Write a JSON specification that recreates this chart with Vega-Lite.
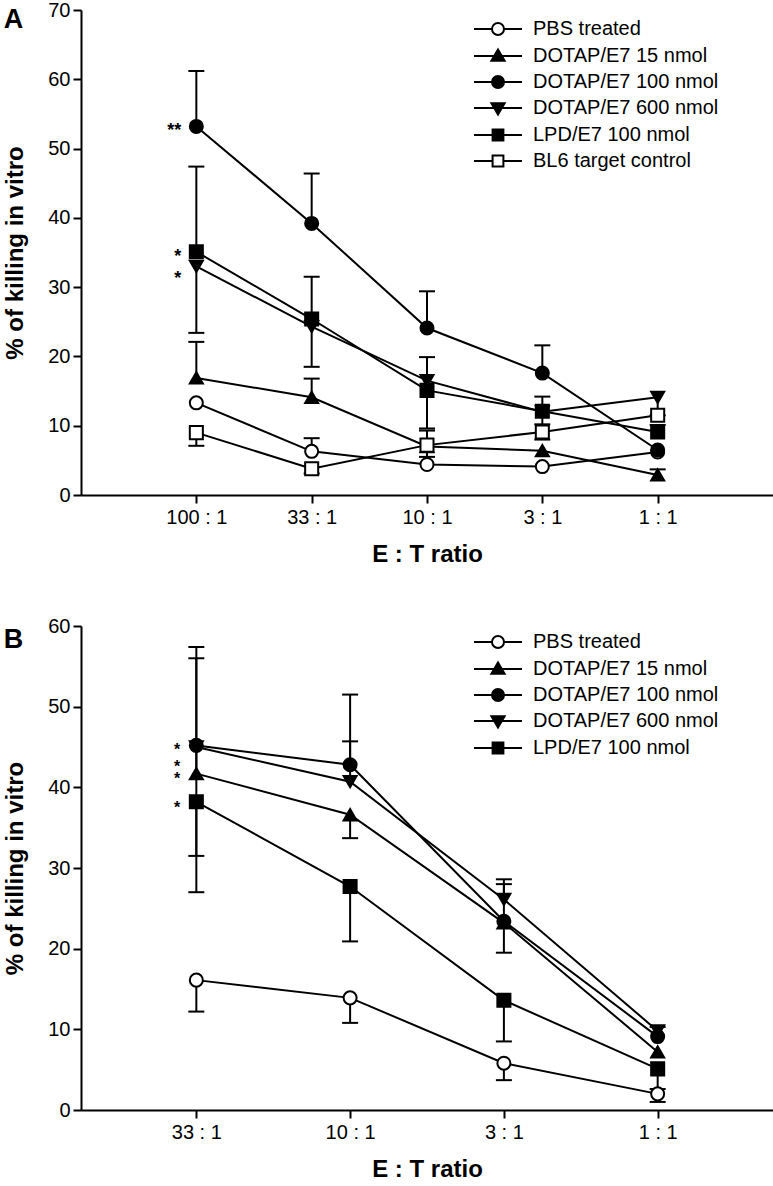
{
  "$schema": "https://vega.github.io/schema/vega-lite/v6.json",
  "padding": {"left": 3, "top": 0, "right": 0, "bottom": 0},
  "background": "white",
  "config": {
    "view": {"stroke": null},
    "font": "Liberation Sans",
    "axis": {"grid": false, "domainColor": "black", "domainWidth": 2, "tickColor": "black", "tickWidth": 2, "tickSize": 8, "labelColor": "black", "labelFont": "Liberation Sans", "labelFontSize": 20, "titleFont": "Liberation Sans", "titleFontSize": 24, "titleFontWeight": "bold", "titleColor": "black"},
    "axisX": {"labelAngle": 0, "labelPadding": 4, "titlePadding": 15},
    "axisY": {"labelPadding": 3, "titlePadding": 20},
    "legend": {"labelLimit": 400, "symbolStrokeWidth": 2}
  },
  "datasets": {
    "a": [
      {"ratio": "100 : 1", "series": "PBS treated", "value": 13.3, "err": null},
      {"ratio": "33 : 1", "series": "PBS treated", "value": 6.3, "err": 8.2},
      {"ratio": "10 : 1", "series": "PBS treated", "value": 4.4, "err": null},
      {"ratio": "3 : 1", "series": "PBS treated", "value": 4.1, "err": null},
      {"ratio": "1 : 1", "series": "PBS treated", "value": 6.2, "err": null},
      {"ratio": "100 : 1", "series": "DOTAP/E7 15 nmol", "value": 16.9, "err": 22.1},
      {"ratio": "33 : 1", "series": "DOTAP/E7 15 nmol", "value": 14.1, "err": 16.8},
      {"ratio": "10 : 1", "series": "DOTAP/E7 15 nmol", "value": 7.0, "err": 9.3},
      {"ratio": "3 : 1", "series": "DOTAP/E7 15 nmol", "value": 6.4, "err": null},
      {"ratio": "1 : 1", "series": "DOTAP/E7 15 nmol", "value": 2.9, "err": 3.7},
      {"ratio": "100 : 1", "series": "DOTAP/E7 100 nmol", "value": 53.2, "err": 61.2},
      {"ratio": "33 : 1", "series": "DOTAP/E7 100 nmol", "value": 39.2, "err": 46.4},
      {"ratio": "10 : 1", "series": "DOTAP/E7 100 nmol", "value": 24.1, "err": 29.4},
      {"ratio": "3 : 1", "series": "DOTAP/E7 100 nmol", "value": 17.6, "err": 21.6},
      {"ratio": "1 : 1", "series": "DOTAP/E7 100 nmol", "value": 6.5, "err": null},
      {"ratio": "100 : 1", "series": "DOTAP/E7 600 nmol", "value": 33.0, "err": 23.4},
      {"ratio": "33 : 1", "series": "DOTAP/E7 600 nmol", "value": 24.3, "err": 18.5},
      {"ratio": "10 : 1", "series": "DOTAP/E7 600 nmol", "value": 16.5, "err": 9.6},
      {"ratio": "3 : 1", "series": "DOTAP/E7 600 nmol", "value": 12.0, "err": 10.2},
      {"ratio": "1 : 1", "series": "DOTAP/E7 600 nmol", "value": 14.1, "err": 11.5},
      {"ratio": "100 : 1", "series": "LPD/E7 100 nmol", "value": 35.1, "err": 47.4},
      {"ratio": "33 : 1", "series": "LPD/E7 100 nmol", "value": 25.4, "err": 31.5},
      {"ratio": "10 : 1", "series": "LPD/E7 100 nmol", "value": 15.1, "err": 19.9},
      {"ratio": "3 : 1", "series": "LPD/E7 100 nmol", "value": 12.1, "err": 14.2},
      {"ratio": "1 : 1", "series": "LPD/E7 100 nmol", "value": 9.1, "err": 10.1},
      {"ratio": "100 : 1", "series": "BL6 target control", "value": 9.0, "err": 7.1},
      {"ratio": "33 : 1", "series": "BL6 target control", "value": 3.8, "err": 3.1},
      {"ratio": "10 : 1", "series": "BL6 target control", "value": 7.2, "err": 5.5},
      {"ratio": "3 : 1", "series": "BL6 target control", "value": 9.1, "err": 8.0},
      {"ratio": "1 : 1", "series": "BL6 target control", "value": 11.5, "err": null}
    ],
    "b": [
      {"ratio": "33 : 1", "series": "PBS treated", "value": 16.1, "err": 12.2},
      {"ratio": "10 : 1", "series": "PBS treated", "value": 13.9, "err": 10.8},
      {"ratio": "3 : 1", "series": "PBS treated", "value": 5.8, "err": 3.7},
      {"ratio": "1 : 1", "series": "PBS treated", "value": 2.0, "err": 1.0},
      {"ratio": "33 : 1", "series": "DOTAP/E7 15 nmol", "value": 41.7, "err": 56.0},
      {"ratio": "10 : 1", "series": "DOTAP/E7 15 nmol", "value": 36.6, "err": 33.7},
      {"ratio": "3 : 1", "series": "DOTAP/E7 15 nmol", "value": 23.2, "err": 28.0},
      {"ratio": "1 : 1", "series": "DOTAP/E7 15 nmol", "value": 7.2, "err": null},
      {"ratio": "33 : 1", "series": "DOTAP/E7 100 nmol", "value": 45.2, "err": 57.4},
      {"ratio": "10 : 1", "series": "DOTAP/E7 100 nmol", "value": 42.8, "err": 51.5},
      {"ratio": "3 : 1", "series": "DOTAP/E7 100 nmol", "value": 23.4, "err": 19.5},
      {"ratio": "1 : 1", "series": "DOTAP/E7 100 nmol", "value": 9.1, "err": null},
      {"ratio": "33 : 1", "series": "DOTAP/E7 600 nmol", "value": 45.0, "err": 31.5},
      {"ratio": "10 : 1", "series": "DOTAP/E7 600 nmol", "value": 40.7, "err": 45.7},
      {"ratio": "3 : 1", "series": "DOTAP/E7 600 nmol", "value": 26.1, "err": 28.6},
      {"ratio": "1 : 1", "series": "DOTAP/E7 600 nmol", "value": 9.8, "err": 10.3},
      {"ratio": "33 : 1", "series": "LPD/E7 100 nmol", "value": 38.2, "err": 27.0},
      {"ratio": "10 : 1", "series": "LPD/E7 100 nmol", "value": 27.7, "err": 20.9},
      {"ratio": "3 : 1", "series": "LPD/E7 100 nmol", "value": 13.6, "err": 8.5},
      {"ratio": "1 : 1", "series": "LPD/E7 100 nmol", "value": 5.1, "err": 2.6}
    ],
    "sigA": [
      {"ratio": "100 : 1", "y": 53.2, "t": "**"},
      {"ratio": "100 : 1", "y": 35.1, "t": "*"},
      {"ratio": "100 : 1", "y": 31.9, "t": "*"}
    ],
    "sigB": [
      {"ratio": "33 : 1", "y": 45.2, "t": "*"},
      {"ratio": "33 : 1", "y": 43.2, "t": "*"},
      {"ratio": "33 : 1", "y": 41.6, "t": "*"},
      {"ratio": "33 : 1", "y": 38.0, "t": "*"}
    ]
  },
  "vconcat": [
    {
      "title": {"text": "A", "anchor": "start", "frame": "bounds", "fontSize": 27, "fontWeight": "bold", "font": "Liberation Sans", "color": "black", "offset": -34},
      "width": 692,
      "height": 485,
      "resolve": {"scale": {"shape": "independent", "fill": "independent", "stroke": "independent"}, "legend": {"shape": "independent", "fill": "independent", "stroke": "independent"}},
      "layer": [
        {
          "data": {"name": "a"},
          "transform": [{"filter": "datum.err != null"}],
          "mark": {"type": "rule", "color": "black", "strokeWidth": 2},
          "encoding": {
            "x": {"field": "ratio", "type": "ordinal", "sort": ["100 : 1", "33 : 1", "10 : 1", "3 : 1", "1 : 1"], "scale": {"type": "point", "padding": 1}, "axis": {"title": "E : T ratio"}},
            "y": {"field": "value", "type": "quantitative", "scale": {"domain": [0, 70], "nice": false}, "axis": {"title": "% of killing in vitro", "values": [0, 10, 20, 30, 40, 50, 60, 70]}},
            "y2": {"field": "err"}
          }
        },
        {
          "data": {"name": "a"},
          "transform": [{"filter": "datum.err != null"}],
          "mark": {"type": "tick", "orient": "horizontal", "color": "black", "size": 16, "thickness": 2, "opacity": 1},
          "encoding": {
            "x": {"field": "ratio", "type": "ordinal", "sort": ["100 : 1", "33 : 1", "10 : 1", "3 : 1", "1 : 1"], "scale": {"type": "point", "padding": 1}, "axis": {"title": "E : T ratio"}},
            "y": {"field": "err", "type": "quantitative", "scale": {"domain": [0, 70], "nice": false}, "axis": {"title": "% of killing in vitro", "values": [0, 10, 20, 30, 40, 50, 60, 70]}}
          }
        },
        {
          "data": {"name": "a"},
          "mark": {"type": "line", "color": "black", "strokeWidth": 2},
          "encoding": {
            "x": {"field": "ratio", "type": "ordinal", "sort": ["100 : 1", "33 : 1", "10 : 1", "3 : 1", "1 : 1"], "scale": {"type": "point", "padding": 1}, "axis": {"title": "E : T ratio"}},
            "y": {"field": "value", "type": "quantitative", "scale": {"domain": [0, 70], "nice": false}, "axis": {"title": "% of killing in vitro", "values": [0, 10, 20, 30, 40, 50, 60, 70]}},
            "detail": {"field": "series", "type": "nominal"}
          }
        },
        {
          "data": {"name": "a"},
          "mark": {"type": "point", "filled": true, "stroke": "black", "strokeWidth": 2, "size": 170, "opacity": 1},
          "encoding": {
            "x": {"field": "ratio", "type": "ordinal", "sort": ["100 : 1", "33 : 1", "10 : 1", "3 : 1", "1 : 1"], "scale": {"type": "point", "padding": 1}, "axis": {"title": "E : T ratio"}},
            "y": {"field": "value", "type": "quantitative", "scale": {"domain": [0, 70], "nice": false}, "axis": {"title": "% of killing in vitro", "values": [0, 10, 20, 30, 40, 50, 60, 70]}},
            "shape": {"field": "series", "type": "nominal", "scale": {"domain": ["PBS treated", "DOTAP/E7 15 nmol", "DOTAP/E7 100 nmol", "DOTAP/E7 600 nmol", "LPD/E7 100 nmol", "BL6 target control"], "range": ["circle", "triangle-up", "circle", "triangle-down", "square", "square"]}, "legend": null},
            "fill": {"field": "series", "type": "nominal", "scale": {"domain": ["PBS treated", "DOTAP/E7 15 nmol", "DOTAP/E7 100 nmol", "DOTAP/E7 600 nmol", "LPD/E7 100 nmol", "BL6 target control"], "range": ["white", "black", "black", "black", "black", "white"]}, "legend": null}
          }
        },
        {
          "data": {"name": "a"},
          "transform": [{"filter": "datum.value < 0"}],
          "mark": {"type": "point", "filled": true, "strokeWidth": 2, "size": 144, "opacity": 1},
          "encoding": {
            "x": {"field": "ratio", "type": "ordinal", "sort": ["100 : 1", "33 : 1", "10 : 1", "3 : 1", "1 : 1"], "scale": {"type": "point", "padding": 1}, "axis": {"title": "E : T ratio"}},
            "y": {"field": "value", "type": "quantitative", "scale": {"domain": [0, 70], "nice": false}, "axis": {"title": "% of killing in vitro", "values": [0, 10, 20, 30, 40, 50, 60, 70]}},
            "shape": {"field": "series", "type": "nominal", "scale": {"domain": ["PBS treated", "DOTAP/E7 15 nmol", "DOTAP/E7 100 nmol", "DOTAP/E7 600 nmol", "LPD/E7 100 nmol", "BL6 target control"], "range": ["M-4,0H-1M1,0H4M-1,0A1,1,0,1,1,1,0A1,1,0,1,1,-1,0Z", "M-4,0H4M0,-1.1L1.1,0.8L-1.1,0.8Z", "M-4,0H4M-1,0A1,1,0,1,1,1,0A1,1,0,1,1,-1,0Z", "M-4,0H4M-1.1,-0.8L1.1,-0.8L0,1.1Z", "M-4,0H4M-0.9,-0.9H0.9V0.9H-0.9Z", "M-4,0H-0.9M0.9,0H4M-0.9,-0.9H0.9V0.9H-0.9Z"]},
              "legend": {"orient": "none", "legendX": 407, "legendY": 9, "title": null, "padding": 0, "labelFont": "Liberation Sans", "labelFontSize": 20, "labelColor": "black", "labelLimit": 400, "symbolSize": 144, "labelOffset": 25, "rowPadding": 6, "symbolStrokeWidth": 2}},
            "fill": {"field": "series", "type": "nominal", "scale": {"domain": ["PBS treated", "DOTAP/E7 15 nmol", "DOTAP/E7 100 nmol", "DOTAP/E7 600 nmol", "LPD/E7 100 nmol", "BL6 target control"], "range": ["white", "black", "black", "black", "black", "white"]},
              "legend": {"orient": "none", "legendX": 407, "legendY": 9, "title": null, "padding": 0, "labelFont": "Liberation Sans", "labelFontSize": 20, "labelColor": "black", "labelLimit": 400, "symbolSize": 144, "labelOffset": 25, "rowPadding": 6, "symbolStrokeWidth": 2}},
            "stroke": {"field": "series", "type": "nominal", "scale": {"domain": ["PBS treated", "DOTAP/E7 15 nmol", "DOTAP/E7 100 nmol", "DOTAP/E7 600 nmol", "LPD/E7 100 nmol", "BL6 target control"], "range": ["black", "black", "black", "black", "black", "black"]},
              "legend": {"orient": "none", "legendX": 407, "legendY": 9, "title": null, "padding": 0, "labelFont": "Liberation Sans", "labelFontSize": 20, "labelColor": "black", "labelLimit": 400, "symbolSize": 144, "labelOffset": 25, "rowPadding": 6, "symbolStrokeWidth": 2}}
          }
        },
        {
          "data": {"name": "sigA"},
          "mark": {"type": "text", "align": "right", "baseline": "middle", "dx": -15, "dy": 5, "fontSize": 18, "fontWeight": "bold", "color": "black"},
          "encoding": {
            "x": {"field": "ratio", "type": "ordinal", "sort": ["100 : 1", "33 : 1", "10 : 1", "3 : 1", "1 : 1"], "scale": {"type": "point", "padding": 1}, "axis": {"title": "E : T ratio"}},
            "y": {"field": "y", "type": "quantitative", "scale": {"domain": [0, 70], "nice": false}, "axis": {"title": "% of killing in vitro", "values": [0, 10, 20, 30, 40, 50, 60, 70]}},
            "text": {"field": "t"}
          }
        }
      ]
    },
    {
      "title": {"text": "B", "anchor": "start", "frame": "bounds", "fontSize": 27, "fontWeight": "bold", "font": "Liberation Sans", "color": "black", "offset": -38},
      "width": 692,
      "height": 484,
      "resolve": {"scale": {"shape": "independent", "fill": "independent", "stroke": "independent"}, "legend": {"shape": "independent", "fill": "independent", "stroke": "independent"}},
      "layer": [
        {
          "data": {"name": "b"},
          "transform": [{"filter": "datum.err != null"}],
          "mark": {"type": "rule", "color": "black", "strokeWidth": 2},
          "encoding": {
            "x": {"field": "ratio", "type": "ordinal", "sort": ["33 : 1", "10 : 1", "3 : 1", "1 : 1"], "scale": {"type": "point", "padding": 0.75}, "axis": {"title": "E : T ratio"}},
            "y": {"field": "value", "type": "quantitative", "scale": {"domain": [0, 60], "nice": false}, "axis": {"title": "% of killing in vitro", "values": [0, 10, 20, 30, 40, 50, 60]}},
            "y2": {"field": "err"}
          }
        },
        {
          "data": {"name": "b"},
          "transform": [{"filter": "datum.err != null"}],
          "mark": {"type": "tick", "orient": "horizontal", "color": "black", "size": 16, "thickness": 2, "opacity": 1},
          "encoding": {
            "x": {"field": "ratio", "type": "ordinal", "sort": ["33 : 1", "10 : 1", "3 : 1", "1 : 1"], "scale": {"type": "point", "padding": 0.75}, "axis": {"title": "E : T ratio"}},
            "y": {"field": "err", "type": "quantitative", "scale": {"domain": [0, 60], "nice": false}, "axis": {"title": "% of killing in vitro", "values": [0, 10, 20, 30, 40, 50, 60]}}
          }
        },
        {
          "data": {"name": "b"},
          "mark": {"type": "line", "color": "black", "strokeWidth": 2},
          "encoding": {
            "x": {"field": "ratio", "type": "ordinal", "sort": ["33 : 1", "10 : 1", "3 : 1", "1 : 1"], "scale": {"type": "point", "padding": 0.75}, "axis": {"title": "E : T ratio"}},
            "y": {"field": "value", "type": "quantitative", "scale": {"domain": [0, 60], "nice": false}, "axis": {"title": "% of killing in vitro", "values": [0, 10, 20, 30, 40, 50, 60]}},
            "detail": {"field": "series", "type": "nominal"}
          }
        },
        {
          "data": {"name": "b"},
          "mark": {"type": "point", "filled": true, "stroke": "black", "strokeWidth": 2, "size": 170, "opacity": 1},
          "encoding": {
            "x": {"field": "ratio", "type": "ordinal", "sort": ["33 : 1", "10 : 1", "3 : 1", "1 : 1"], "scale": {"type": "point", "padding": 0.75}, "axis": {"title": "E : T ratio"}},
            "y": {"field": "value", "type": "quantitative", "scale": {"domain": [0, 60], "nice": false}, "axis": {"title": "% of killing in vitro", "values": [0, 10, 20, 30, 40, 50, 60]}},
            "shape": {"field": "series", "type": "nominal", "scale": {"domain": ["PBS treated", "DOTAP/E7 15 nmol", "DOTAP/E7 100 nmol", "DOTAP/E7 600 nmol", "LPD/E7 100 nmol"], "range": ["circle", "triangle-up", "circle", "triangle-down", "square"]}, "legend": null},
            "fill": {"field": "series", "type": "nominal", "scale": {"domain": ["PBS treated", "DOTAP/E7 15 nmol", "DOTAP/E7 100 nmol", "DOTAP/E7 600 nmol", "LPD/E7 100 nmol"], "range": ["white", "black", "black", "black", "black"]}, "legend": null}
          }
        },
        {
          "data": {"name": "b"},
          "transform": [{"filter": "datum.value < 0"}],
          "mark": {"type": "point", "filled": true, "strokeWidth": 2, "size": 144, "opacity": 1},
          "encoding": {
            "x": {"field": "ratio", "type": "ordinal", "sort": ["33 : 1", "10 : 1", "3 : 1", "1 : 1"], "scale": {"type": "point", "padding": 0.75}, "axis": {"title": "E : T ratio"}},
            "y": {"field": "value", "type": "quantitative", "scale": {"domain": [0, 60], "nice": false}, "axis": {"title": "% of killing in vitro", "values": [0, 10, 20, 30, 40, 50, 60]}},
            "shape": {"field": "series", "type": "nominal", "scale": {"domain": ["PBS treated", "DOTAP/E7 15 nmol", "DOTAP/E7 100 nmol", "DOTAP/E7 600 nmol", "LPD/E7 100 nmol"], "range": ["M-4,0H-1M1,0H4M-1,0A1,1,0,1,1,1,0A1,1,0,1,1,-1,0Z", "M-4,0H4M0,-1.1L1.1,0.8L-1.1,0.8Z", "M-4,0H4M-1,0A1,1,0,1,1,1,0A1,1,0,1,1,-1,0Z", "M-4,0H4M-1.1,-0.8L1.1,-0.8L0,1.1Z", "M-4,0H4M-0.9,-0.9H0.9V0.9H-0.9Z"]},
              "legend": {"orient": "none", "legendX": 407, "legendY": 6, "title": null, "padding": 0, "labelFont": "Liberation Sans", "labelFontSize": 20, "labelColor": "black", "labelLimit": 400, "symbolSize": 144, "labelOffset": 25, "rowPadding": 6, "symbolStrokeWidth": 2}},
            "fill": {"field": "series", "type": "nominal", "scale": {"domain": ["PBS treated", "DOTAP/E7 15 nmol", "DOTAP/E7 100 nmol", "DOTAP/E7 600 nmol", "LPD/E7 100 nmol"], "range": ["white", "black", "black", "black", "black"]},
              "legend": {"orient": "none", "legendX": 407, "legendY": 6, "title": null, "padding": 0, "labelFont": "Liberation Sans", "labelFontSize": 20, "labelColor": "black", "labelLimit": 400, "symbolSize": 144, "labelOffset": 25, "rowPadding": 6, "symbolStrokeWidth": 2}},
            "stroke": {"field": "series", "type": "nominal", "scale": {"domain": ["PBS treated", "DOTAP/E7 15 nmol", "DOTAP/E7 100 nmol", "DOTAP/E7 600 nmol", "LPD/E7 100 nmol"], "range": ["black", "black", "black", "black", "black"]},
              "legend": {"orient": "none", "legendX": 407, "legendY": 6, "title": null, "padding": 0, "labelFont": "Liberation Sans", "labelFontSize": 20, "labelColor": "black", "labelLimit": 400, "symbolSize": 144, "labelOffset": 25, "rowPadding": 6, "symbolStrokeWidth": 2}}
          }
        },
        {
          "data": {"name": "sigB"},
          "mark": {"type": "text", "align": "right", "baseline": "middle", "dx": -16, "dy": 5, "fontSize": 16, "fontWeight": "bold", "color": "black"},
          "encoding": {
            "x": {"field": "ratio", "type": "ordinal", "sort": ["33 : 1", "10 : 1", "3 : 1", "1 : 1"], "scale": {"type": "point", "padding": 0.75}, "axis": {"title": "E : T ratio"}},
            "y": {"field": "y", "type": "quantitative", "scale": {"domain": [0, 60], "nice": false}, "axis": {"title": "% of killing in vitro", "values": [0, 10, 20, 30, 40, 50, 60]}},
            "text": {"field": "t"}
          }
        }
      ]
    }
  ],
  "spacing": 50,
  "resolve": {"scale": {"x": "independent", "y": "independent", "shape": "independent", "fill": "independent", "stroke": "independent"}, "legend": {"shape": "independent", "fill": "independent", "stroke": "independent"}}
}
